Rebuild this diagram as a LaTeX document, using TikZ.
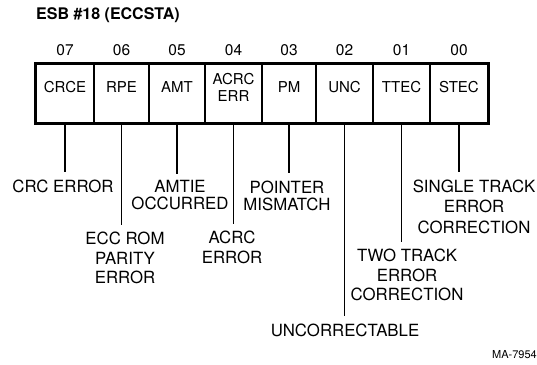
\documentclass[tikz,border=0pt]{standalone}
\usepackage{fontspec}
\setmainfont{TeX Gyre Heros}
\begin{document}
\begin{tikzpicture}[x=1pt,y=-1pt,
  cell/.style={draw, line width=1.4pt, inner sep=0pt, minimum height=59pt},
  celltext/.style={font=\fontsize{15}{17}\selectfont, align=center, inner sep=0pt},
  bitnum/.style={font=\fontsize{15.5}{17}\selectfont, inner sep=0pt},
  desc/.style={font=\fontsize{16.8}{19.5}\selectfont, align=center, inner xsep=0pt, inner ysep=7pt},
  lead/.style={line width=1.5pt}]
\useasboundingbox (0,0) rectangle (537,364);
\node[font=\bfseries\fontsize{16}{18}\selectfont, anchor=west, inner sep=0pt] (title) at (36,15) {ESB \#18 (ECCSTA)};
% cells
\foreach \n/\a/\b/\t/\num in {7/36/94/CRCE/07, 6/94/149/RPE/06, 5/149/205/AMT/05, 4/205/262/{ACRC\\ERR}/04, 3/262/316/PM/03, 2/316/373/UNC/02, 1/373/430/TTEC/01, 0/430/488/STEC/00}{
  \node[cell, minimum width={\b-\a}] (c\n) at ({(\a+\b)/2},93.5) {};
  \node[celltext] (t\n) at ({(\a+\b)/2},87) {\t};
  \node[bitnum] (b\n) at ({(\a+\b)/2},50) {\num};
}
\draw[line width=2.6pt] (c7.north west) rectangle (c0.south east);
% descriptions
\node[desc] (d7) at (63,186) {CRC ERROR};
\node[desc] (d6) at (125,258) {ECC ROM\\PARITY\\ERROR};
\node[desc, font=\fontsize{16.8}{17}\selectfont] (d5) at (180,195.5) {AMTIE\\OCCURRED};
\node[desc] (d4) at (232,247.5) {ACRC\\ERROR};
\node[desc, font=\fontsize{16.8}{17}\selectfont] (d3) at (287,195.5) {POINTER\\MISMATCH};
\node[desc] (d2) at (345,330) {UNCORRECTABLE};
\node[desc] (d1) at (407,275) {TWO TRACK\\ERROR\\CORRECTION};
\node[desc, font=\fontsize{16.8}{20.5}\selectfont] (d0) at (474,206.5) {SINGLE TRACK\\ERROR\\CORRECTION};
\foreach \n in {7,6,5,4,3,2,1,0}{
  \draw[lead] (c\n.south) -- (c\n.south |- d\n.north);
}
\node[font=\fontsize{11}{13}\selectfont, anchor=east, inner sep=0pt] (fig) at (537,355) {MA-7954};
\end{tikzpicture}
\end{document}
